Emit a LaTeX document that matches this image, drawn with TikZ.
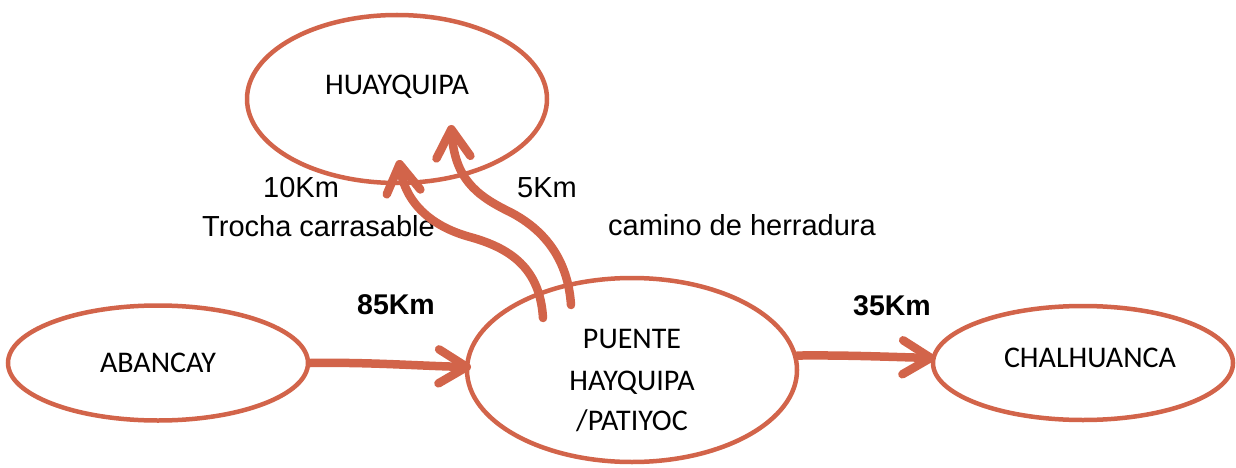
\documentclass[tikz,border=0pt]{standalone}
\usepackage{fontspec}
\setmainfont{Carlito}
\newfontfamily\arialf{Liberation Sans}
\usetikzlibrary{arrows.meta,calc,shapes.geometric}
\definecolor{rd}{HTML}{D2644A}
\begin{document}
\begin{tikzpicture}[x=1pt,y=-1pt,
  place/.style={draw=rd, line width=4.5pt, ellipse, inner sep=0pt, fill=white},
  lbl/.style={inner sep=0pt, anchor=base, font=\fontsize{30}{34}\selectfont},
  alab/.style={inner sep=0pt, anchor=base west, font=\arialf\fontsize{29}{34}\selectfont},
  blab/.style={inner sep=0pt, anchor=base west, font=\arialf\bfseries\fontsize{28.5}{34}\selectfont},
  road/.style={draw=rd, line width=8.5pt, line cap=round, line join=round,
    -{Straight Barb[length=28pt,width=34pt,line cap=round,line join=round]}}]
\useasboundingbox (0,0) rectangle (1236,468);

% places
\node[place, minimum width=300pt, minimum height=168pt] (huay) at (397,99) {};
\node[place, minimum width=300pt, minimum height=115pt] (aban) at (158,363) {};
\node[place, minimum width=330pt, minimum height=184pt] (puen) at (632,370) {};
\node[place, minimum width=300pt, minimum height=114pt] (chal) at (1083,363) {};

% place names
\node[lbl] (thuay) at (397,95) {HUAYQUIPA};
\node[lbl] (taban) at (158,372) {ABANCAY};
\node[lbl] (tp1) at (632,348) {PUENTE};
\node[lbl] (tp2) at (632,390) {HAYQUIPA};
\node[lbl] (tp3) at (632,430) {/PATIYOC};
\node[lbl] (tchal) at (1090,367) {CHALHUANCA};

% road labels
\node[alab] (l10) at (263,197) {10Km};
\node[alab] (ltro) at (202,236) {Trocha carrasable};
\node[alab] (l5) at (517,197) {5Km};
\node[alab] (lcam) at (608,235) {camino de herradura};
\node[blab] (l85) at (357,314) {85Km};
\node[blab] (l35) at (853,315) {35Km};

% connector end points
\coordinate (s1) at ($(puen.center)+(-89,-52)$);
\coordinate (s2) at ($(puen.center)+(-61,-65)$);
\coordinate (e1) at ($(huay.center)+(2,61)$);
\coordinate (e2) at ($(huay.center)+(54,26)$);
\coordinate (e3) at ($(puen.center)+(-161,-3)$);
\coordinate (e4) at ($(chal.center)+(-148,-5)$);

% roads
\draw[road] (aban.east) .. controls (370,362) and (420,366) .. (e3);
\draw[road] (puen.5) .. controls (850,355) and (890,357) .. (e4);
\draw[road] (s1) .. controls (540,268) and (510,248) .. (470,237)
  .. controls (430,226) and (405,202) .. (e1);
\draw[road] (s2) .. controls (568,260) and (545,230) .. (510,212)
  .. controls (475,195) and (455,178) .. (e2);
\end{tikzpicture}
\end{document}
